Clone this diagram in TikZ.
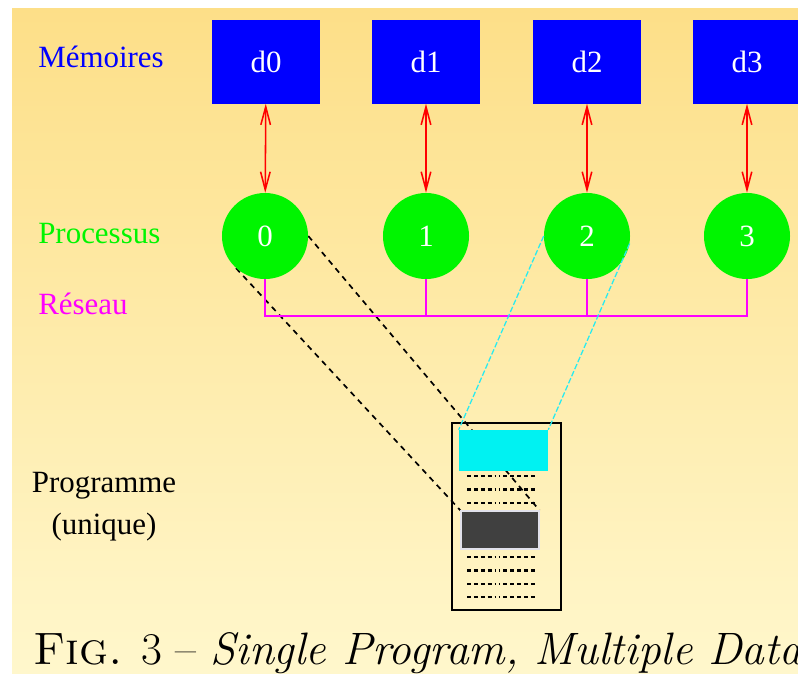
\documentclass[tikz,border=0pt]{standalone}
\usepackage{fontspec}
\newfontfamily\timesfont{Liberation Serif}
\usetikzlibrary{arrows.meta}

\definecolor{fondhaut}{RGB}{253,223,136}
\definecolor{fondbas}{RGB}{255,247,204}
\definecolor{gris}{RGB}{64,64,64}
\definecolor{bleu}{RGB}{0,0,255}
\definecolor{vert}{RGB}{0,245,0}
\definecolor{rose}{RGB}{255,0,255}
\definecolor{turquoise}{RGB}{0,242,242}
\definecolor{cyanclair}{RGB}{40,235,240}

\pgfdeclarelayer{fond}
\pgfdeclarelayer{dessous}
\pgfsetlayers{fond,dessous,main}

\begin{document}
\begin{tikzpicture}[
x=0.025cm,y=-0.025cm,
every node/.append style={font={\timesfont\fontsize{22}{27}\selectfont}},
mem/.style={fill=bleu,text=white,minimum width=2.675cm,minimum height=2.075cm,inner sep=0pt},
proc/.style={circle,fill=vert,text=white,minimum size=2.15cm,inner sep=0pt},
titre/.style={anchor=base west,inner sep=0pt},
acces/.style={{Straight Barb[length=4.5mm,width=2.4mm]}-{Straight Barb[length=4.5mm,width=2.4mm]},red,line width=1.1pt},
reseau/.style={rose,line width=1.2pt},
lien/.style={line width=1.2pt,dash pattern=on 4pt off 3.5pt},
lienprog/.style={cyanclair,line width=0.9pt,dash pattern=on 4pt off 1.5pt},
ligne/.style={line width=1.7pt,dash pattern={on 2.8pt off 2.1pt on 2.8pt off 2.1pt on 2.8pt off 2.1pt on 2.8pt off 2.1pt on 1pt off 2.1pt on 1pt off 2.1pt on 2.8pt off 2.1pt on 2.8pt off 2.1pt on 2.8pt off 2.1pt on 2.8pt off 2.1pt on 2.8pt off 20pt}},
]
\useasboundingbox (0,0) rectangle (798,673);
\begin{pgfonlayer}{fond}
\fill[white] (0,0) rectangle (798,673);
\shade[top color=fondhaut,bottom color=fondbas] (12,8) rectangle (798,673);
\end{pgfonlayer}

% memoires et processus
\node[mem] (D0) at (266,62) {d0};
\node[mem] (D1) at (426,62) {d1};
\node[mem] (D2) at (587,62) {d2};
\node[mem] (D3) at (747,62) {d3};

\node[proc] (P0) at (265,236) {0};
\node[proc] (P1) at (426,236) {1};
\node[proc] (P2) at (587,236) {2};
\node[proc] (P3) at (747,236) {3};

\node[titre,text=bleu] (lmem) at (38,67) {Mémoires};
\node[titre,text=vert] (lproc) at (38,243) {Processus};
\node[titre,text=rose] (lres) at (38,314) {Réseau};

\draw[acces] (D0)--(P0);
\draw[acces] (D1)--(P1);
\draw[acces] (D2)--(P2);
\draw[acces] (D3)--(P3);

% reseau
\coordinate (R) at (0,316);
\draw[reseau] (P0.south)--(P0.south |- R)--(P3.south |- R)--(P3.south);
\draw[reseau] (P1.south)--(P1.south |- R);
\draw[reseau] (P2.south)--(P2.south |- R);

% programme
\node[draw,line width=1.4pt,minimum width=2.725cm,minimum height=4.675cm,inner sep=0pt] (prog) at (506.5,516.5) {};
\node[fill=turquoise,minimum width=2.225cm,minimum height=1.025cm,inner sep=0pt] (code) at (503.5,450.5) {};
\node[fill=gris,draw={rgb,255:red,225;green,225;blue,235},line width=0.8pt,minimum width=1.95cm,minimum height=0.95cm,inner sep=0pt] (bloc) at (500,530) {};
\node[align=center,font={\timesfont\fontsize{22}{30}\selectfont}] (lprog) at (104,507) {Programme\\(unique)};

\begin{pgfonlayer}{dessous}
\foreach \y in {476,489.5,503,517,530.5,544,557,570.5,584,597}
  \draw[ligne] (467,\y)--(545,\y);
\draw[lien] (P0.-132)--(bloc.north west);
\draw[lien] (P0.east)--(bloc.north east);
\end{pgfonlayer}

\draw[lienprog] (P2.west)--(code.north west);
\draw[lienprog] (P2.-10)--(code.north east);

\node[titre,font={\fontsize{32.3}{38}\selectfont}] (legende) at (33,664) {\textsc{Fig.} 3 -- \textit{Single Program, Multiple Data}};
\end{tikzpicture}
\end{document}
